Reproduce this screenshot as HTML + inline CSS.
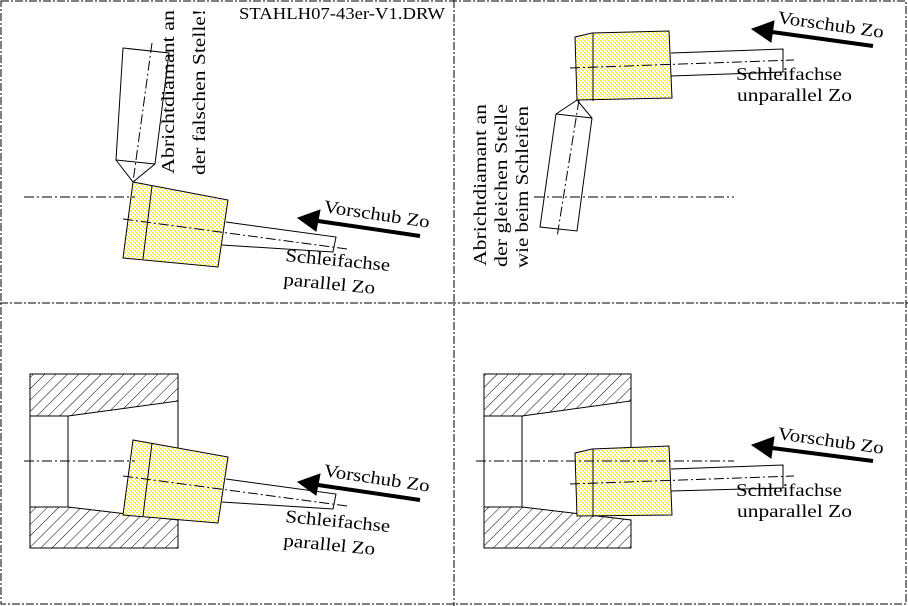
<!DOCTYPE html>
<html><head><meta charset="utf-8"><style>html,body{margin:0;padding:0;background:#fff}svg{display:block}</style></head><body>
<svg width="908" height="606" viewBox="0 0 908 606" xmlns="http://www.w3.org/2000/svg" font-family="'Liberation Serif', serif">
<defs>
<pattern id="y" width="4" height="4" patternUnits="userSpaceOnUse"><rect width="4" height="4" fill="#fff"/><rect x="0" y="0" width="2" height="1" fill="#ffff00"/><rect x="2" y="2" width="2" height="1" fill="#ffff00"/><rect x="1" y="1" width="1" height="1" fill="#f0f000"/><rect x="3" y="3" width="1" height="1" fill="#f0f000"/></pattern>
<pattern id="h" width="8" height="8" patternUnits="userSpaceOnUse" patternTransform="rotate(45)"><rect width="8" height="8" fill="#fff"/><line x1="0" y1="0" x2="0" y2="8" stroke="#000" stroke-width="1"/></pattern>
</defs>
<g fill="none" stroke="#000" stroke-width="1" stroke-dasharray="8,2,2,2">
<rect x="1" y="1" width="905" height="603"/>
<line x1="454" y1="0" x2="454" y2="606"/>
<line x1="0" y1="303" x2="908" y2="303"/>
</g>
<text x="239" y="19" font-size="17" textLength="206" lengthAdjust="spacingAndGlyphs">STAHLH07-43er-V1.DRW</text>

<!-- Panel 1 -->
<g stroke="#000" stroke-width="1" fill="none">
<polygon points="123,48 169,53 155,164 133,182 116,160" fill="#fff"/>
<line x1="116" y1="160" x2="155" y2="164"/>
<polygon points="133,182 228,200 218,267 123,258" fill="url(#y)"/>
<line x1="152" y1="186" x2="143" y2="259"/>
<polyline points="226,222 336,237 333,252 222,245"/>
<g stroke-dasharray="10,3,2,3"><line x1="152" y1="43" x2="133" y2="182"/><line x1="24" y1="197" x2="135" y2="197"/><line x1="123" y1="219" x2="347" y2="249"/></g>
<line x1="420" y1="236" x2="318" y2="221" stroke-width="4"/>
<polygon points="298,218 320,210 316,231" fill="#000"/>
</g>
<text transform="translate(323,212) rotate(8.5)" font-size="18" textLength="107" lengthAdjust="spacingAndGlyphs">Vorschub Zo</text>
<text transform="translate(285,261) rotate(5.5)" font-size="18" textLength="105" lengthAdjust="spacingAndGlyphs">Schleifachse</text>
<text transform="translate(283,285) rotate(5.5)" font-size="18" textLength="92" lengthAdjust="spacingAndGlyphs">parallel Zo</text>
<text transform="translate(174,174) rotate(-90)" font-size="18" textLength="164" lengthAdjust="spacingAndGlyphs">Abrichtdiamant an</text>
<text transform="translate(205,175) rotate(-90)" font-size="18" textLength="166" lengthAdjust="spacingAndGlyphs">der falschen Stelle!</text>

<!-- Panel 2 -->
<g stroke="#000" stroke-width="1" fill="none">
<polygon points="575,37 592,33 669,31 672,98 577,100" fill="url(#y)"/>
<line x1="593" y1="33" x2="593" y2="101"/>
<polyline points="671,53 783,49 783,72 671,76"/>
<polygon points="577,100 592,118 577,231 540,227 556,114" fill="#fff"/>
<line x1="556" y1="114" x2="592" y2="118"/>
<g stroke-dasharray="10,3,2,3"><line x1="570" y1="68" x2="794" y2="60"/><line x1="579" y1="100" x2="557" y2="237"/><line x1="534" y1="197" x2="734" y2="197"/></g>
<line x1="873" y1="46" x2="772" y2="32" stroke-width="4"/>
<polygon points="752,29 774,21 771,42" fill="#000"/>
</g>
<text transform="translate(777,23) rotate(8)" font-size="18" textLength="107" lengthAdjust="spacingAndGlyphs">Vorschub Zo</text>
<text x="736" y="80" font-size="18" textLength="106" lengthAdjust="spacingAndGlyphs">Schleifachse</text>
<text x="737" y="101" font-size="18" textLength="115" lengthAdjust="spacingAndGlyphs">unparallel Zo</text>
<text transform="translate(486,266) rotate(-90)" font-size="18" textLength="162" lengthAdjust="spacingAndGlyphs">Abrichtdiamant an</text>
<text transform="translate(507,267) rotate(-90)" font-size="18" textLength="163" lengthAdjust="spacingAndGlyphs">der gleichen Stelle</text>
<text transform="translate(528,268) rotate(-90)" font-size="18" textLength="162" lengthAdjust="spacingAndGlyphs">wie beim Schleifen</text>

<!-- Panel 3 -->
<g stroke="#000" stroke-width="1">
<polygon points="30,374 178,374 178,401 68,416 30,416" fill="url(#h)"/>
<polygon points="30,507 68,507 178,520 178,548 30,548" fill="url(#h)"/>
<line x1="30" y1="416" x2="30" y2="507"/>
<line x1="68" y1="416" x2="68" y2="507"/>
<line x1="178" y1="401" x2="178" y2="449"/>
<polygon points="133,440 228,457 218,523 123,515" fill="url(#y)"/>
<line x1="152" y1="443" x2="143" y2="516"/>
<polyline points="226,479 336,494 333,509 222,502" fill="none"/>
<g stroke-dasharray="10,3,2,3"><line x1="24" y1="461" x2="135" y2="461"/><line x1="123" y1="476" x2="347" y2="506"/></g>
<line x1="420" y1="500" x2="318" y2="485" stroke-width="4"/>
<polygon points="298,482 320,474 316,495" fill="#000"/>
</g>
<text transform="translate(323,476) rotate(8.5)" font-size="18" textLength="107" lengthAdjust="spacingAndGlyphs">Vorschub Zo</text>
<text transform="translate(285,522) rotate(5.5)" font-size="18" textLength="105" lengthAdjust="spacingAndGlyphs">Schleifachse</text>
<text transform="translate(283,546) rotate(5.5)" font-size="18" textLength="92" lengthAdjust="spacingAndGlyphs">parallel Zo</text>

<!-- Panel 4 -->
<g stroke="#000" stroke-width="1">
<polygon points="484,374 631,374 631,401 522,416 484,416" fill="url(#h)"/>
<polygon points="484,507 522,507 631,520 631,548 484,548" fill="url(#h)"/>
<line x1="484" y1="416" x2="484" y2="507"/>
<line x1="522" y1="416" x2="522" y2="507"/>
<line x1="631" y1="401" x2="631" y2="448"/>
<polygon points="575,453 592,449 669,446 672,515 577,516" fill="url(#y)"/>
<line x1="593" y1="449" x2="593" y2="517"/>
<polyline points="671,469 783,465 783,488 671,491" fill="none"/>
<g stroke-dasharray="10,3,2,3"><line x1="476" y1="461" x2="734" y2="461"/><line x1="570" y1="484" x2="794" y2="476"/></g>
<line x1="873" y1="461" x2="772" y2="448" stroke-width="4"/>
<polygon points="752,445 774,437 771,458" fill="#000"/>
</g>
<text transform="translate(777,439) rotate(8)" font-size="18" textLength="107" lengthAdjust="spacingAndGlyphs">Vorschub Zo</text>
<text x="736" y="496" font-size="18" textLength="106" lengthAdjust="spacingAndGlyphs">Schleifachse</text>
<text x="737" y="517" font-size="18" textLength="115" lengthAdjust="spacingAndGlyphs">unparallel Zo</text>
</svg>
</body></html>
